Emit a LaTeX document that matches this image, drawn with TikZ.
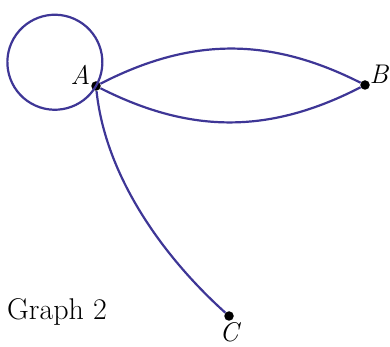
\documentclass[tikz,border=0pt]{standalone}
\usepackage{fontspec}
\usepackage{tikz}
\usetikzlibrary{positioning}
\definecolor{edgeblue}{RGB}{62,54,150}

\begin{document}
\begin{tikzpicture}[x=1pt, y=1pt,
        vert/.style={circle, fill=black, inner sep=0pt, minimum size=9.5pt},
        vlabel/.style={font=\fontsize{27}{29}\selectfont\itshape, inner sep=1pt},
        edge/.style={line width=2.2pt, edgeblue}]
        \useasboundingbox (0,0) rectangle (390,347);
        \node[vert] (A) at (96,261) {};
        \node[vert] (B) at (365,262) {};
        \node[vert] (C) at (229,31) {};
        \node[vlabel, above left=-3pt and 1pt of A] (lA) {A};
        \node[vlabel, above right=-3pt and 0pt of B] (lB) {B};
        \node[vlabel, inner sep=0pt, below=1pt of C] (lC) {C};
        \draw[edge] (A) arc[start angle=-30, delta angle=360, radius=47.5];
        \draw[edge] (A) to[bend left=27] (B);
        \draw[edge] (A) to[bend right=27] (B);
        \draw[edge] (A) to[out=-84, in=138, looseness=0.85] (C);
        \node[font=\fontsize{30}{33}\selectfont, anchor=base west, inner sep=0pt] (title) at (7,27) {Graph 2};
      \end{tikzpicture}
\end{document}
